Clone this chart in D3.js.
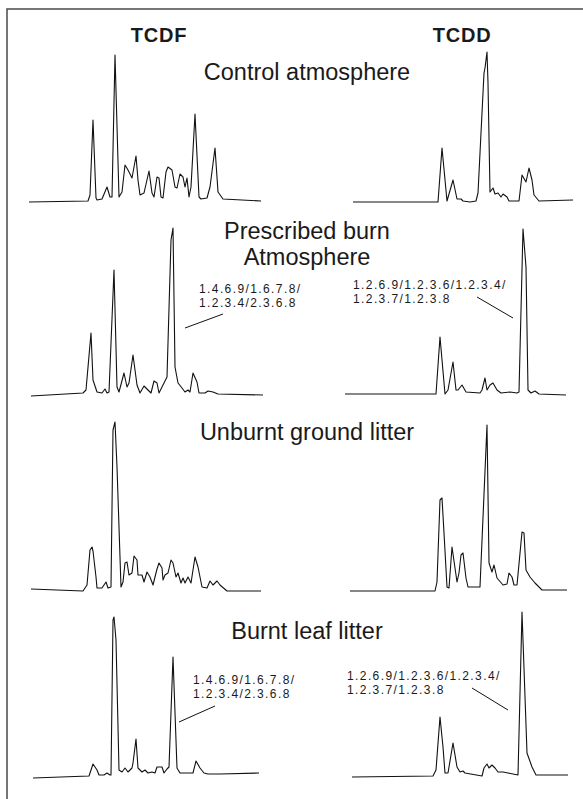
<!DOCTYPE html>
<html lang="en">
	<head>
		<meta charset="utf-8">
		<title>TCDF / TCDD chromatograms</title>
		<script type="text/javascript" src="https://cdn.jsdelivr.net/npm/d3@7/dist/d3.min.js"></script>
		<style type="text/css">
			body { margin: 0; background: #fff; }
			text { font-family: "Liberation Sans", Arial, sans-serif; fill: #1a1a1a; }
		</style>
	</head>
	<body>
		<script type="text/javascript">
			//Column headers and panel titles
			var columns = ["TCDF", "TCDD"];
			var panelTitles = [
				["Control atmosphere"],
				["Prescribed burn", "Atmosphere"],
				["Unburnt ground litter"],
				["Burnt leaf litter"]
			];
			var furanIsomers = ["1.4.6.9/1.6.7.8/", "1.2.3.4/2.3.6.8"];
			var dioxinIsomers = ["1.2.6.9/1.2.3.6/1.2.3.4/", "1.2.3.7/1.2.3.8"];

			//Traces: [retention (arbitrary units), intensity (arbitrary units)]
			var controlTCDF = [
				[-1,0],[58,1],[60,7],[63,82],[66,4],[67,2],[72,3],[77,15],[80,5],[82,5],
				[85,147],[89,5],[92,10],[95,37],[98,32],[102,24],[106,46],[108,22],[110,7],
				[114,9],[119,31],[122,9],[124,5],[127,25],[129,24],[131,5],[133,4],[136,30],
				[138,35],[142,32],[145,15],[147,14],[150,28],[153,25],[155,15],[157,24],
				[159,5],[161,15],[165,88],[169,5],[171,3],[177,4],[180,15],[185,54],[188,10],
				[193,3],[231,1]
			];
			var controlTCDD = [
				[3,0],[88,0],[92,54],[97,1],[103,22],[107,3],[111,3],[113,1],[120,0],[126,1],
				[128,9],[134,129],[135,134],[137,150],[138,119],[140,10],[143,14],[145,8],
				[148,9],[151,5],[153,8],[157,5],[159,1],[169,1],[172,27],[176,20],[179,34],
				[182,22],[184,7],[189,1],[223,2]
			];
			var burnAtmTCDF = [
				[1,-1],[53,2],[56,5],[61,62],[63,15],[67,3],[72,2],[75,6],[77,2],[79,3],
				[84,125],[87,8],[89,3],[94,22],[97,8],[99,12],[103,40],[107,10],[110,2],
				[114,9],[118,5],[121,2],[124,14],[127,12],[129,2],[133,10],[137,18],[141,155],
				[143,167],[145,28],[148,12],[152,7],[155,3],[158,5],[160,3],[163,22],[167,13],
				[169,2],[175,2],[178,4],[183,3],[188,1],[233,0]
			];
			var burnAtmTCDD = [
				[-5,0],[86,0],[90,57],[95,0],[98,4],[103,32],[106,4],[108,4],[112,9],[116,2],
				[130,1],[132,4],[135,16],[137,4],[140,9],[143,11],[147,4],[151,1],[160,2],
				[167,1],[169,2],[173,165],[176,127],[178,4],[181,1],[185,3],[189,0],[216,-1]
			];
			var unburntTCDF = [
				[1,1],[53,-1],[57,5],[60,40],[62,43],[63,39],[66,13],[67,2],[72,2],[76,8],
				[78,2],[81,3],[83,160],[85,168],[87,123],[91,3],[93,8],[95,27],[97,28],[99,15],
				[102,17],[104,34],[107,30],[108,15],[112,15],[114,8],[117,18],[120,13],[123,5],
				[127,21],[129,27],[132,22],[133,10],[135,15],[138,17],[141,30],[143,27],
				[146,13],[148,17],[151,7],[153,12],[155,7],[158,13],[161,7],[165,33],[168,23],
				[172,3],[177,2],[180,9],[183,5],[187,9],[190,5],[197,-1],[231,-1]
			];
			var unburntTCDD = [
				[0,0],[85,0],[87,9],[90,91],[92,93],[94,58],[97,4],[99,3],[102,44],[107,9],
				[109,18],[111,36],[113,38],[116,13],[118,4],[130,4],[137,166],[139,28],
				[142,19],[144,26],[147,13],[153,6],[157,7],[159,18],[162,14],[164,6],[167,6],
				[172,59],[174,58],[176,21],[180,14],[185,8],[192,1],[217,1]
			];
			var burntTCDF = [
				[3,-2],[59,0],[63,12],[67,6],[69,1],[74,1],[77,3],[80,1],[81,1],[83,156],
				[84,159],[86,136],[89,6],[92,4],[95,8],[98,4],[102,8],[103,13],[106,37],
				[108,8],[112,4],[115,6],[118,3],[122,4],[125,3],[127,9],[132,9],[134,3],
				[137,7],[139,9],[143,119],[147,8],[150,3],[157,3],[163,3],[166,15],[170,8],
				[174,3],[178,2],[190,2],[229,3]
			];
			var burntTCDD = [
				[2,-1],[83,0],[86,6],[90,59],[93,29],[95,3],[98,3],[103,33],[107,9],[110,4],
				[113,5],[115,3],[132,0],[134,8],[137,12],[139,8],[142,11],[145,8],[148,4],
				[153,4],[158,3],[163,2],[168,1],[172,164],[177,23],[182,9],[186,1],[218,1]
			];

			var traces = [
				[controlTCDF, controlTCDD],
				[burnAtmTCDF, burnAtmTCDD],
				[unburntTCDF, unburntTCDD],
				[burntTCDF, burntTCDD]
			];

			//Width and height
			var w = 583;
			var h = 799;

			//baseline y of each panel (left, right) and title baseline
			var panelLayout = [
				{ base: [202, 202], titleY: 80 },
				{ base: [395, 394], titleY: 239 },
				{ base: [590, 591], titleY: 440 },
				{ base: [776, 776], titleY: 639 }
			];

			//isomer labels: panel index, column, text position, leader ends in data units
			var annotations = [
				{ panel: 1, col: 0, x: 199, y: 293, from: [155, 67], to: [193, 81] },
				{ panel: 1, col: 1, x: 353, y: 289, from: [127, 97], to: [163, 76] },
				{ panel: 3, col: 0, x: 193, y: 684, from: [149, 54], to: [185, 70] },
				{ panel: 3, col: 1, x: 347, y: 680, from: [122, 88], to: [158, 66] }
			];

			var xScales = [
				d3.scaleLinear().domain([0, 232]).range([30, 262]),
				d3.scaleLinear().domain([0, 222]).range([350, 572])
			];

			function yScale(p, c) {
				var b = panelLayout[p].base[c];
				return d3.scaleLinear().domain([0, 170]).range([b, b - 170]);
			}

			var svg = d3.select("body")
						.append("svg")
						.attr("width", w)
						.attr("height", h);

			//frame (top and left edges)
			svg.append("path")
			   .attr("d", "M7," + h + "V9H" + w)
			   .attr("fill", "none")
			   .attr("stroke", "#4a4a4a")
			   .attr("stroke-width", 1.5);

			//column headers
			svg.selectAll("text.col")
			   .data(columns)
			   .enter()
			   .append("text")
			   .attr("class", "col")
			   .text(function(d) { return d; })
			   .attr("x", function(d, i) { return i == 0 ? 159 : 462; })
			   .attr("y", 42)
			   .attr("text-anchor", "middle")
			   .attr("font-size", "20px")
			   .attr("font-weight", "bold")
			   .attr("letter-spacing", "0.8px");

			//panel titles
			panelTitles.forEach(function(lines, p) {
				svg.selectAll(null)
				   .data(lines)
				   .enter()
				   .append("text")
				   .text(function(d) { return d; })
				   .attr("x", 307)
				   .attr("y", function(d, i) { return panelLayout[p].titleY + i * 26; })
				   .attr("text-anchor", "middle")
				   .attr("font-size", "23.5px");
			});

			//chromatogram traces
			traces.forEach(function(pair, p) {
				pair.forEach(function(data, c) {
					var x = xScales[c];
					var y = yScale(p, c);
					var line = d3.line()
								 .x(function(d) { return x(d[0]); })
								 .y(function(d) { return y(d[1]); });
					svg.append("path")
					   .datum(data)
					   .attr("d", line)
					   .attr("fill", "none")
					   .attr("stroke", "#111")
					   .attr("stroke-width", 1.1)
					   .attr("stroke-linejoin", "round");
				});
			});

			//isomer labels with leader lines
			annotations.forEach(function(a) {
				var x = xScales[a.col];
				var y = yScale(a.panel, a.col);
				var lines = a.col == 0 ? furanIsomers : dioxinIsomers;
				svg.selectAll(null)
				   .data(lines)
				   .enter()
				   .append("text")
				   .text(function(d) { return d; })
				   .attr("x", a.x)
				   .attr("y", function(d, i) { return a.y + i * 14; })
				   .attr("font-size", "12px")
				   .attr("letter-spacing", "1.4px");
				svg.append("line")
				   .attr("x1", x(a.from[0]))
				   .attr("y1", y(a.from[1]))
				   .attr("x2", x(a.to[0]))
				   .attr("y2", y(a.to[1]))
				   .attr("stroke", "#111")
				   .attr("stroke-width", 1);
			});
		</script>
	</body>
</html>
